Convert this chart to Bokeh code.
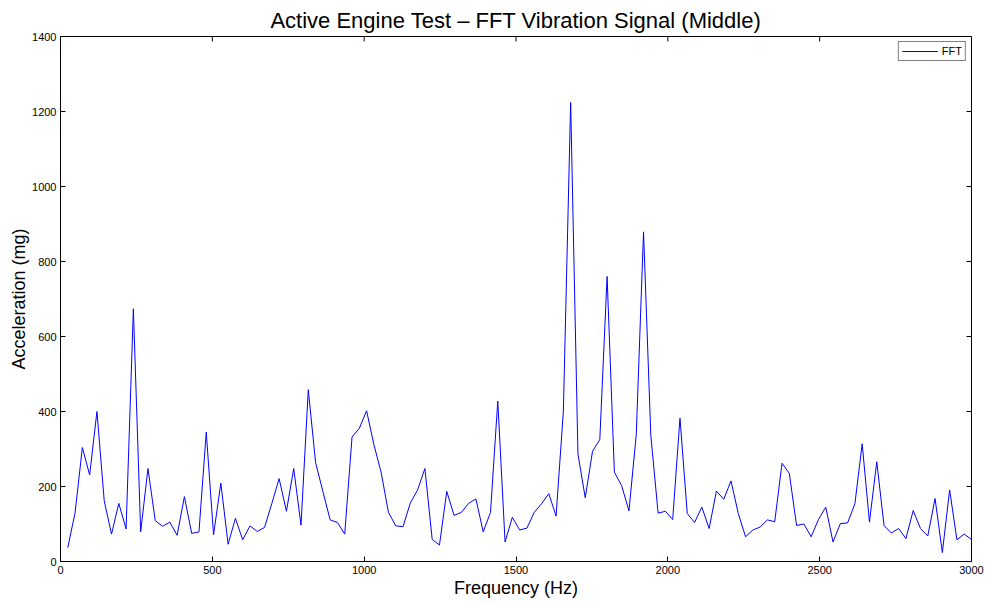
import math
from bokeh.plotting import figure
from bokeh.models import Range1d, FixedTicker, Legend, LegendItem
from bokeh.embed import file_html
from bokeh.resources import INLINE

bin_width_hz = 24
amplitude_mg = [
    37, 130, 304, 231, 400, 162, 73, 155, 87, 674,
    79, 248, 109, 94, 105, 70, 173, 75, 79, 345,
    71, 209, 46, 115, 58, 95, 80, 91, 155, 221,
    134, 248, 97, 458, 264, 187, 111, 104, 73, 332,
    355, 402, 312, 237, 131, 95, 93, 156, 191, 248,
    59, 44, 187, 123, 131, 155, 167, 79, 131, 428,
    52, 118, 84, 89, 131, 154, 181, 121, 401, 1224,
    287, 170, 294, 325, 760, 238, 202, 135, 338, 879,
    336, 129, 134, 112, 382, 128, 104, 145, 88, 188,
    166, 215, 128, 66, 84, 92, 111, 106, 262, 235,
    96, 100, 66, 112, 145, 52, 101, 103, 154, 314,
    105, 266, 96, 76, 88, 61, 136, 88, 68, 168,
    24, 191, 58, 73, 59,
]
frequency_hz = [bin_width_hz * (i + 1) for i in range(len(amplitude_mg))]

x_min, x_max = 0, 3000
y_min, y_max = 0, 1400
x_ticks = [0, 500, 1000, 1500, 2000, 2500, 3000]
y_ticks = [0, 200, 400, 600, 800, 1000, 1200, 1400]

FONT = "Liberation Sans"

p = figure(width=987, height=603, output_backend="svg", toolbar_location=None,
           x_range=Range1d(x_min, x_max), y_range=Range1d(y_min, y_max),
           min_border_left=60, min_border_right=16, min_border_top=36, min_border_bottom=42,
           title="Active Engine Test \u2013 FFT Vibration Signal (Middle)")

p.title.align = "center"
p.title.text_font = FONT
p.title.text_font_size = "22px"
p.title.text_font_style = "normal"
p.title.text_color = "black"
p.title.standoff = 8

p.xgrid.visible = False
p.ygrid.visible = False
p.outline_line_color = "black"
p.outline_line_width = 1
p.background_fill_color = "white"
p.border_fill_color = "white"

for ax in (p.xaxis[0], p.yaxis[0]):
    ax.major_tick_in = 5
    ax.major_tick_out = 0
    ax.minor_tick_line_color = None
    ax.axis_line_color = "black"
    ax.major_tick_line_color = "black"
    ax.major_label_text_font = FONT
    ax.major_label_text_font_size = "11px"
    ax.major_label_text_color = "black"
    ax.axis_label_text_font = FONT
    ax.axis_label_text_font_size = "18px"
    ax.axis_label_text_font_style = "normal"
    ax.axis_label_text_color = "black"

p.xaxis[0].ticker = FixedTicker(ticks=x_ticks)
p.yaxis[0].ticker = FixedTicker(ticks=y_ticks)
p.xaxis[0].axis_label = "Frequency (Hz)"
p.yaxis[0].axis_label = "Acceleration (mg)"
p.xaxis[0].major_label_standoff = 4
p.yaxis[0].major_label_standoff = 4
p.xaxis[0].axis_label_standoff = 1
p.yaxis[0].axis_label_standoff = 0

# inward ticks on the right and top edges of the frame
p.ray(x=[x_max] * len(y_ticks), y=y_ticks, length=5, length_units="screen",
      angle=math.pi, line_color="black", line_width=1)
p.ray(x=x_ticks, y=[y_max] * len(x_ticks), length=5, length_units="screen",
      angle=-math.pi / 2, line_color="black", line_width=1)

line = p.line(frequency_hz, amplitude_mg, line_color="#0000ff", line_width=1)

legend = Legend(items=[LegendItem(label="FFT", renderers=[line])],
                location="top_right")
legend.label_text_font = FONT
legend.label_text_font_size = "11px"
legend.label_text_color = "black"
legend.glyph_width = 36
legend.glyph_height = 10
legend.label_height = 10
legend.label_standoff = 4
legend.padding = 3
legend.spacing = 0
legend.margin = 5
legend.border_line_color = "black"
legend.border_line_width = 1
legend.background_fill_alpha = 1
p.add_layout(legend)

open("out.html", "w").write(file_html(p, INLINE))
